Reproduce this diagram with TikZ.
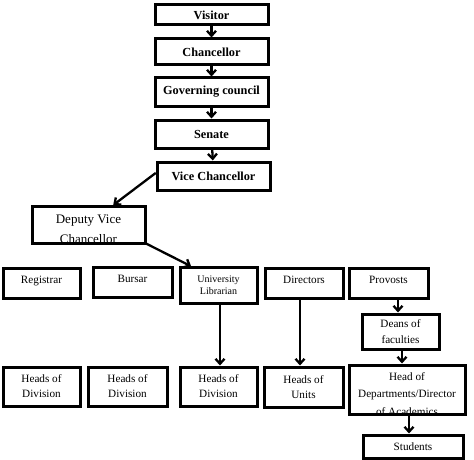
\documentclass[tikz,border=0pt]{standalone}
\usepackage{fontspec}
\setmainfont{Liberation Serif}
\usetikzlibrary{arrows.meta}
\tikzset{
  box/.style={draw=none, fill=white, inner sep=0pt, outer sep=0pt, align=center},
  frame/.style={line width=3pt},
  topbox/.style={box, font=\fontsize{12.3}{14}\selectfont\bfseries},
  lowbox/.style={box, font=\fontsize{11.2}{15}\selectfont},
  conn/.style={line width=2.3pt, -{Straight Barb[length=5pt,width=9pt,line width=2.3pt]}, shorten >=1.5pt, shorten <=1.5pt},
}
\begin{document}
\begin{tikzpicture}[x=1pt,y=-1pt]
\useasboundingbox (0,0) rectangle (474,460);
% top chain
\node[topbox, minimum width=113pt, minimum height=20pt] (visitor) at (211.5,15) {Visitor};
\node[topbox, minimum width=113pt, minimum height=26pt] (chanc) at (211.5,52) {Chancellor};
\node[topbox, minimum width=113pt, minimum height=28pt] (gov) at (211.5,92) {Governing council};
\node[topbox, minimum width=113pt, minimum height=28pt] (senate) at (211.5,134) {Senate};
\node[topbox, minimum width=113pt, minimum height=28pt] (vc) at (213.5,176) {Vice Chancellor};
% deputy vice chancellor (text clipped by box)
\node[box, minimum width=113pt, minimum height=37pt] (dvc) at (88.5,224.5) {};
\begin{scope}
  \clip (dvc.south west) rectangle (dvc.north east);
  \node[font=\fontsize{13}{20}\selectfont, align=center, anchor=north, inner sep=0pt] (dvct) at ([yshift=-8.4pt]dvc.north) {Deputy Vice\\Chancellor};
\end{scope}
% middle row
\node[lowbox, minimum width=77pt, minimum height=30pt, text depth=6pt] (reg) at (41.5,283) {Registrar};
\node[lowbox, minimum width=79pt, minimum height=30pt, text depth=6pt] (bursar) at (132.5,282) {Bursar};
\node[box, font=\fontsize{10}{12}\selectfont, minimum width=77pt, minimum height=36pt] (ul) at (218.5,285) {University\\Librarian};
\node[lowbox, minimum width=78pt, minimum height=30pt, text depth=6pt] (dir) at (304,283) {Directors};
\node[lowbox, minimum width=79pt, minimum height=30pt, text depth=6pt] (prov) at (388.5,283) {Provosts};
\node[lowbox, font=\fontsize{11.2}{16}\selectfont, minimum width=77pt, minimum height=35pt] (deans) at (400.5,331.5) {Deans of\\faculties};
% bottom row
\node[lowbox, minimum width=77pt, minimum height=39pt] (hod1) at (41.5,386.5) {Heads of\\Division};
\node[lowbox, minimum width=79pt, minimum height=39pt] (hod2) at (127.5,386.5) {Heads of\\Division};
\node[lowbox, minimum width=77pt, minimum height=39pt] (hod3) at (218.5,386.5) {Heads of\\Division};
\node[lowbox, minimum width=79pt, minimum height=40pt] (hou) at (303.5,387) {Heads of\\Units};
\node[box, minimum width=116pt, minimum height=49pt] (hodept) at (407,389.5) {};
\begin{scope}
  \clip (hodept.south west) rectangle (hodept.north east);
  \node[font=\fontsize{11.2}{17.5}\selectfont, align=center, anchor=north, inner sep=0pt] (hodeptt) at ([yshift=-7.2pt]hodept.north) {Head of\\Departments/Director\\of Academics};
\end{scope}
\node[lowbox, minimum width=100pt, minimum height=23pt] (stud) at (413,446.5) {Students};
% frames
\foreach \n in {visitor,chanc,gov,senate,vc,dvc,reg,bursar,ul,dir,prov,deans,hod1,hod2,hod3,hou,hodept,stud}
  \draw[frame] (\n.south west) rectangle (\n.north east);
% connectors
\draw[conn] (visitor) -- (chanc);
\draw[conn] (chanc) -- (gov);
\draw[conn] (gov) -- (senate);
\draw[conn] (senate) -- (vc);
\draw[conn] ([yshift=4pt]vc.west) -- ([xshift=23.5pt]dvc.north);
\draw[conn] (dvc.south east) -- ([xshift=-26pt]ul.north);
\draw[conn] (ul.south -| 220,0) -- (hod3.north -| 220,0);
\draw[conn] (dir.south -| 300,0) -- (hou.north -| 300,0);
\draw[conn] (prov.south -| 398,0) -- (deans.north -| 398,0);
\draw[conn] (deans.south -| 402,0) -- (hodept.north -| 402,0);
\draw[conn] (hodept.south -| 409,0) -- (stud.north -| 409,0);
\end{tikzpicture}
\end{document}
